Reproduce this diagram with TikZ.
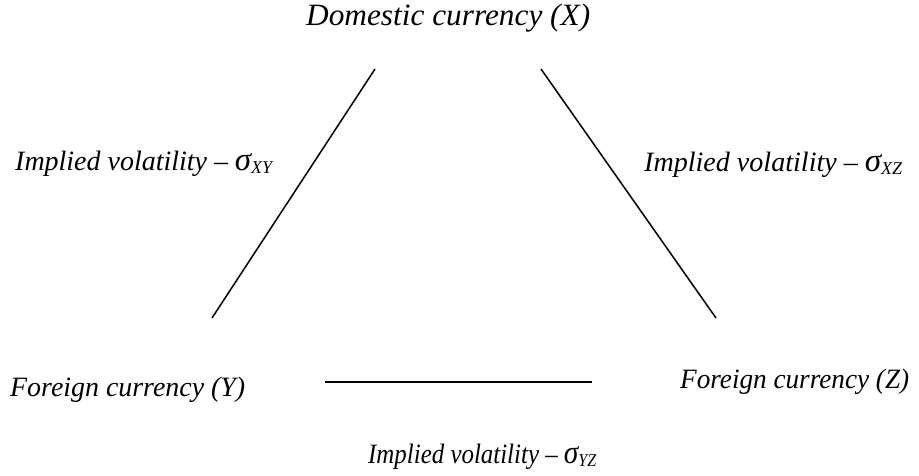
\documentclass[tikz,border=0pt]{standalone}
\usepackage{fontspec}
\setmainfont{Liberation Serif}
\usepackage{graphicx}
\newcommand{\fitw}[2]{\resizebox{#1}{\height}{#2}}
\newcommand{\sgsub}[1]{\raisebox{-0.28ex}{\fontsize{18}{18}\selectfont #1}}
\newcommand{\sg}{{\fontsize{33}{33}\selectfont σ}}
\tikzset{
  lbl/.style={inner sep=0pt, anchor=base west, font=\fontsize{28}{28}\selectfont\itshape},
  toplbl/.style={lbl, font=\fontsize{31}{31}\selectfont\itshape},
  edge/.style={line width=1.5pt, black}
}
\begin{document}
\begin{tikzpicture}[x=1pt,y=-1pt]
\useasboundingbox (0,0) rectangle (919,475);
\node[toplbl] (X) at (306,25) {\fitw{284pt}{Domestic currency (X)}};
\node[lbl] (vxy) at (15,170) {\fitw{257pt}{Implied volatility – \sg\sgsub{XY}}};
\node[lbl] (vxz) at (644,171) {\fitw{258pt}{Implied volatility – \sg\sgsub{XZ}}};
\node[lbl] (Y) at (10,396) {\fitw{235pt}{Foreign currency (Y)}};
\node[lbl] (Z) at (680,388) {\fitw{229pt}{Foreign currency (Z)}};
\node[lbl] (vyz) at (368,463) {\fitw{228pt}{Implied volatility – \sg\sgsub{YZ}}};
\coordinate (a1) at (375,69);
\coordinate (a2) at (212,318);
\coordinate (b1) at (541,69);
\coordinate (b2) at (716,318);
\coordinate (c1) at (325,382);
\coordinate (c2) at (592,382);
\draw[edge] (a1) -- (a2);
\draw[edge] (b1) -- (b2);
\draw[edge] (c1) -- (c2);
\end{tikzpicture}
\end{document}
